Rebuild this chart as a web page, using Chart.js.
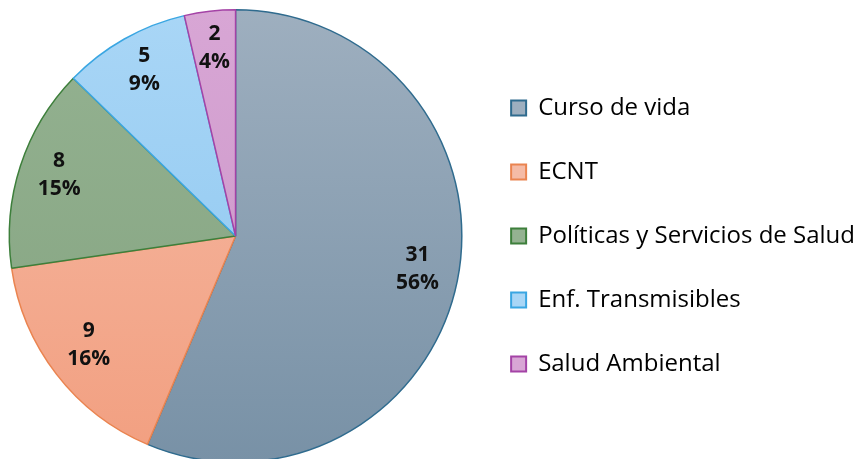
<!DOCTYPE html>
<html>
<head>
<meta charset="utf-8">
<script src="https://cdn.jsdelivr.net/npm/chart.js@4.4.0/dist/chart.umd.min.js"></script>
<style>
  html, body { margin: 0; padding: 0; background: #fff; overflow: hidden; }
  #caja { position: relative; width: 868px; height: 463px; }
</style>
</head>
<body>
<div id="caja"><canvas id="grafica"></canvas></div>
<script>
//DATOS
const categorias = ['Curso de vida', 'ECNT', 'Políticas y Servicios de Salud', 'Enf. Transmisibles', 'Salud Ambiental'];
const valores = [31, 9, 8, 5, 2];
const coloresArriba = ['#9eafbf', '#f5bba6', '#94b291', '#a9d6f6', '#d8a6d5'];
const coloresAbajo = ['#7891a6', '#f29f80', '#84a380', '#8ac5ef', '#c995c6'];
const bordes = ['#2f6b8e', '#ea8450', '#3d7f3b', '#3aa6e2', '#a443a6'];
//DATOS

const graph = document.getElementById('grafica');

function degradado(ctx) { //gradiente vertical de cada rebanada
  const chart = ctx.chart;
  const area = chart.chartArea;
  if (!area) return coloresArriba[ctx.dataIndex];
  const g = chart.ctx.createLinearGradient(0, area.top, 0, area.bottom);
  g.addColorStop(0, coloresArriba[ctx.dataIndex]);
  g.addColorStop(1, coloresAbajo[ctx.dataIndex]);
  return g;
}

const etiquetas = { //dibuja valor y porcentaje dentro de cada rebanada
  id: 'etiquetas',
  afterDatasetsDraw(chart) {
    const c = chart.ctx;
    const meta = chart.getDatasetMeta(0);
    const total = valores.reduce((a, b) => a + b, 0);
    c.save();
    c.font = 'bold 21px "Open Sans", sans-serif';
    c.fillStyle = '#111';
    c.textAlign = 'center';
    c.textBaseline = 'middle';
    meta.data.forEach((arc, i) => {
      const p = arc.getProps(['x', 'y', 'startAngle', 'endAngle', 'outerRadius']);
      const ang = (p.startAngle + p.endAngle) / 2;
      const r = p.outerRadius * 0.82;
      const x = p.x + Math.cos(ang) * r;
      const y = p.y + Math.sin(ang) * r;
      const pct = Math.round(valores[i] / total * 100);
      c.fillText(String(valores[i]), x, y - 18);
      c.fillText(pct + '%', x, y + 10);
    });
    c.restore();
  }
};

const chart = new Chart(graph, {
  type: 'pie',
  data: {
    labels: categorias,
    datasets: [{
      data: valores,
      backgroundColor: degradado,
      borderColor: bordes,
      borderWidth: 1.5
    }]
  },
  options: {
    responsive: true,
    maintainAspectRatio: false,
    animation: false,
    layout: { padding: { top: 9, bottom: 0, left: 0, right: 3 } },
    plugins: {
      tooltip: { enabled: false },
      legend: {
        position: 'right',
        labels: {
          font: { family: '"Open Sans", sans-serif', size: 24 },
          color: '#1a1a1a',
          boxWidth: 15,
          boxHeight: 15,
          padding: 40,
          generateLabels(ch) {
            return categorias.map((t, i) => ({
              text: t,
              fillStyle: coloresArriba[i],
              strokeStyle: bordes[i],
              lineWidth: 2,
              index: i
            }));
          }
        }
      }
    }
  },
  plugins: [etiquetas]
});
</script>
</body>
</html>
